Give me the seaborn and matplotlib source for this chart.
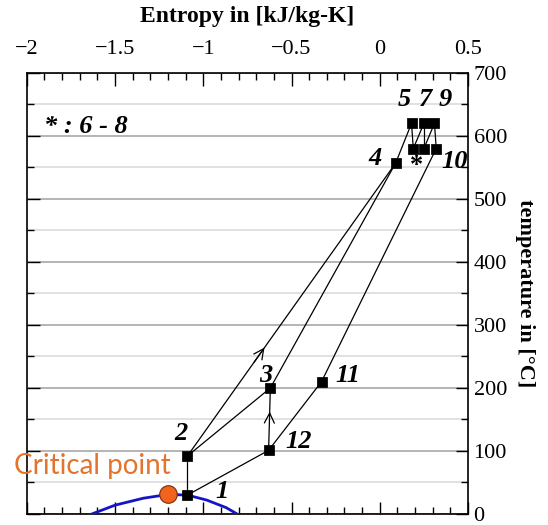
import matplotlib
matplotlib.use('Agg')
import matplotlib.pyplot as plt
import pandas as pd
import seaborn as sns
from matplotlib.ticker import MultipleLocator

# state points of the cycle (entropy, temperature)
state_ids = ['1', '2', '3', '4', '5', '6', '7', '8', '9', '10', '11', '12']
entropy = [-1.09, -1.09, -0.62, 0.09, 0.18, 0.19, 0.25, 0.25, 0.31, 0.32, -0.33, -0.63]
temperature = [30, 92, 200, 557, 620, 580, 620, 580, 620, 580, 210, 101]
shown_labels = ['1', '2', '3', '4', '5', '', '7', '', '9', '10', '11', '12']
label_dx = [35, -6, -5, -21, -7, 0, 2, 0, 11, 18, 26, 30]
label_dy = [4, 23, 12, 5, 24, 0, 24, 0, 24, -13, 6, 9]

# connections between states
segments = [('1', '2'), ('1', '12'), ('12', '3'), ('2', '3'), ('2', '4'), ('3', '4'),
            ('4', '5'), ('5', '6'), ('6', '7'), ('7', '8'), ('8', '9'), ('9', '10'),
            ('10', '11'), ('11', '12')]
arrow_segments = [('2', '4', 0.37), ('12', '3', 0.62)]

# saturation dome
dome_s = [-1.66, -1.5, -1.34, -1.2, -1.09, -0.98, -0.87, -0.79]
dome_t = [-3, 14, 25, 31, 30, 22, 10, -3]
crit_s, crit_t = -1.2, 31

df = pd.DataFrame({'id': state_ids, 's': entropy, 'T': temperature})
pos = {r.id: (r.s, r.T) for r in df.itertuples()}

sns.set_style('ticks')
plt.rcParams['font.family'] = ['Liberation Serif', 'DejaVu Serif']
for k in ['text.color', 'axes.labelcolor', 'xtick.color', 'ytick.color']:
    plt.rcParams[k] = 'black'

fig = plt.figure(figsize=(5.48, 5.25), dpi=100)
ax = fig.add_axes([0.049, 0.021, 0.805, 0.84])

for a, b in segments:
    ax.plot([pos[a][0], pos[b][0]], [pos[a][1], pos[b][1]], color='black', lw=0.9, zorder=3)

for a, b, f in arrow_segments:
    (x0, y0), (x1, y1) = pos[a], pos[b]
    tip = (x0 + f * (x1 - x0), y0 + f * (y1 - y0))
    tail = (x0 + (f - 0.05) * (x1 - x0), y0 + (f - 0.05) * (y1 - y0))
    ax.annotate('', xy=tip, xytext=tail,
                arrowprops=dict(arrowstyle='->', color='black', lw=0.9,
                                mutation_scale=18, shrinkA=0, shrinkB=0), zorder=4)

dome = pd.DataFrame({'s': dome_s, 'T': dome_t})
sns.lineplot(data=dome, x='s', y='T', sort=False, color='#1515c8', lw=2, ax=ax, zorder=3)

sns.scatterplot(data=df, x='s', y='T', marker='s', s=45, color='black',
                edgecolor='black', ax=ax, zorder=5)
ax.scatter([crit_s], [crit_t], s=160, color='#f2641e', edgecolor='#7a2a00',
           linewidth=0.8, zorder=6)

for r, lab, dx, dy in zip(df.itertuples(), shown_labels, label_dx, label_dy):
    if lab:
        ax.annotate(lab, (r.s, r.T), xytext=(dx, dy), textcoords='offset pixels',
                    ha='center', va='center', fontsize=19, fontweight='bold',
                    fontstyle='italic')
ax.annotate('*', pos['8'], xytext=(-7, -17), textcoords='offset pixels',
            ha='center', va='center', fontsize=19, fontweight='bold')
ax.text(-1.9, 615, '* : 6 - 8', fontsize=19, fontweight='bold', fontstyle='italic',
        va='center')
ax.annotate('Critical point', (crit_s, crit_t), xytext=(-76, 28), textcoords='offset pixels',
            ha='center', va='center', fontsize=20, color='#e2742d',
            family=['Lato', 'DejaVu Sans'], annotation_clip=False)

ax.set_xlim(-2, 0.5)
ax.set_ylim(0, 700)
ax.xaxis.set_major_locator(MultipleLocator(0.5))
ax.xaxis.set_minor_locator(MultipleLocator(0.1))
ax.yaxis.set_major_locator(MultipleLocator(100))
ax.yaxis.set_minor_locator(MultipleLocator(50))
ax.grid(axis='y', which='major', color='#a8a8a8', lw=1.2)
ax.grid(axis='y', which='minor', color='#dcdcdc', lw=1.2)
ax.set_axisbelow(True)

ax.xaxis.tick_top()
ax.yaxis.tick_right()
ax.tick_params(which='both', direction='in', top=True, bottom=True, left=True, right=True,
               labeltop=True, labelbottom=False, labelright=True, labelleft=False,
               labelsize=16, width=1, color='black')
ax.tick_params(which='major', length=9, pad=4)
ax.tick_params(which='minor', length=5)
ax.tick_params(axis='x', pad=10)
ax.set_xticks([-2, -1.5, -1, -0.5, 0, 0.5])
ax.set_xticklabels(['\u22122', '\u22121.5', '\u22121', '\u22120.5', '0', '0.5'])

ax.xaxis.set_label_position('top')
ax.set_xlabel('Entropy in [kJ/kg-K]', fontsize=17, fontweight='bold', labelpad=13)
ax.yaxis.set_label_position('right')
ax.set_ylabel('temperature in [\u00b0C]', fontsize=16, fontweight='bold',
              rotation=270, labelpad=20)
for sp in ax.spines.values():
    sp.set_visible(True)
    sp.set_color('black')
    sp.set_linewidth(1.2)

fig.savefig('out.png', dpi=100)
